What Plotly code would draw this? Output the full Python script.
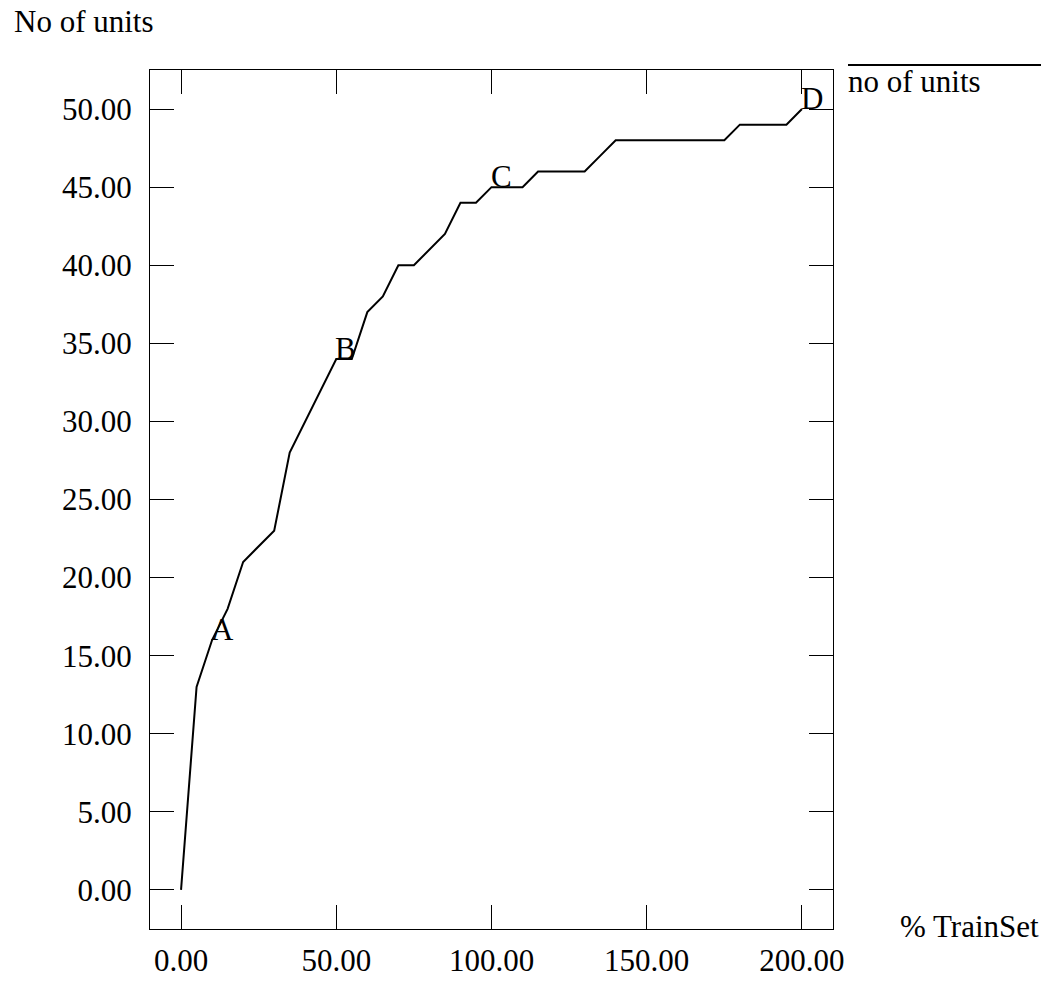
import plotly.graph_objects as go

# Data
train_pct = [0, 5, 10, 15, 20, 25, 30, 35, 40, 45, 50, 55, 60, 65, 70, 75, 80, 85, 90, 95,
             100, 105, 110, 115, 120, 125, 130, 135, 140, 145, 150, 155, 160, 165, 170, 175,
             180, 185, 190, 195, 200]
no_units = [0, 13, 16, 18, 21, 22, 23, 28, 30, 32, 34, 34, 37, 38, 40, 40, 41, 42, 44, 44,
            45, 45, 45, 46, 46, 46, 46, 47, 48, 48, 48, 48, 48, 48, 48, 48,
            49, 49, 49, 49, 50]
point_labels = ["A", "B", "C", "D"]
label_x = [10, 50, 100, 200]
label_y = [16, 34, 45, 50]
x_ticks = [0, 50, 100, 150, 200]
y_ticks = [0, 5, 10, 15, 20, 25, 30, 35, 40, 45, 50]

FONT = "Liberation Serif, Times New Roman, serif"
FS = 31
W, H = 1042, 981
ML, MR, MT, MB = 150, 209, 70, 52
PW, PH = W - ML - MR, H - MT - MB

def px(x):
    return (x - ML) / PW

def py(y):
    return (H - MB - y) / PH

fig = go.Figure()
fig.add_trace(go.Scatter(x=train_pct, y=no_units, mode="lines",
                         line=dict(color="black", width=2), name="no of units",
                         showlegend=False))

annotations = []
for t, x, y in zip(point_labels, label_x, label_y):
    annotations.append(dict(x=x, y=y, xref="x", yref="y", text=t, showarrow=False,
                            xanchor="left", yanchor="bottom", yshift=-9, xshift=-3,
                            font=dict(family=FONT, size=FS, color="black")))

annotations.append(dict(x=px(12), y=py(41), xref="paper", yref="paper", text="No of units",
                        showarrow=False, xanchor="left", yanchor="bottom",
                        font=dict(family=FONT, size=FS, color="black")))
annotations.append(dict(x=px(1041), y=py(946), xref="paper", yref="paper", text="% TrainSet",
                        showarrow=False, xanchor="right", yanchor="bottom",
                        font=dict(family=FONT, size=FS, color="black")))
annotations.append(dict(x=px(846), y=py(101), xref="paper", yref="paper", text="no of units",
                        showarrow=False, xanchor="left", yanchor="bottom",
                        font=dict(family=FONT, size=FS, color="black")))

shapes = [dict(type="line", xref="paper", yref="paper", x0=px(848), x1=px(1041),
               y0=py(65), y1=py(65), line=dict(color="black", width=2))]

axis_common = dict(showline=True, linecolor="black", linewidth=1, mirror="ticks",
                   ticks="inside", ticklen=24, tickwidth=1, tickcolor="black",
                   showgrid=False, zeroline=False, tickformat=".2f", automargin=False,
                   tickfont=dict(family=FONT, size=FS, color="black"))

fig.update_layout(
    width=W, height=H,
    margin=dict(l=ML, r=MR, t=MT, b=MB, pad=0, autoexpand=False),
    paper_bgcolor="white", plot_bgcolor="white",
    xaxis=dict(range=[-10, 210], tickvals=x_ticks, ticklabelstandoff=4, **axis_common),
    yaxis=dict(range=[-2.5, 52.5], tickvals=y_ticks, ticklabelstandoff=11, **axis_common),
    annotations=annotations, shapes=shapes, showlegend=False,
)

fig.write_html("out.html", config={"displayModeBar": False},
               post_script="document.body.style.margin='0px';document.body.style.overflow='hidden';")
